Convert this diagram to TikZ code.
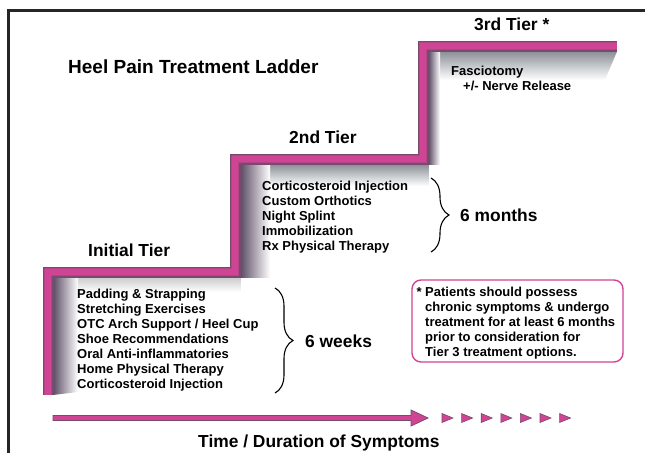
\documentclass[tikz,border=0pt]{standalone}
\usepackage{fontspec}
\setmainfont{Liberation Sans}
\usetikzlibrary{calc,decorations.pathreplacing}

\definecolor{ladderpink}{RGB}{208,68,148}
\definecolor{ladderedge}{RGB}{120,74,110}
\definecolor{laddermid}{RGB}{176,70,136}
\definecolor{stepshade}{RGB}{92,78,102}
\definecolor{topshade}{RGB}{140,145,152}
\definecolor{framegray}{RGB}{38,38,38}

\begin{document}
\begin{tikzpicture}[
    x=1pt, y=-1pt,
    every node/.style={inner sep=0pt},
    title/.style={font=\bfseries\fontsize{19}{22}\selectfont, anchor=base west},
    tier/.style={font=\bfseries\fontsize{17.4}{20}\selectfont, anchor=base west},
    items/.style={font=\bfseries\fontsize{13}{15}\selectfont, align=left, anchor=north west},
    brc/.style={decorate, decoration={brace, amplitude=18pt}, line width=1.1pt},
    bandout/.style={line width=11pt, ladderedge, line join=miter},
    bandmid/.style={line width=8.5pt, laddermid, line join=miter},
    bandin/.style={line width=6pt, ladderpink, line join=miter},
    tick/.style={fill=ladderpink, draw=ladderedge, line width=0.6pt},
  ]
  \useasboundingbox (0,0) rectangle (645,453);

  % ── Frame ────────────────────────────────────────────────────────────────
  \draw[framegray, line width=3pt] (8.5,453) -- (8.5,10.5) -- (645,10.5);

  % ── Shading below the steps ──────────────────────────────────────────────

  % Initial tier
  \shade[top color=gray!40, bottom color=white] (53,277.5) rectangle (240.5,292);
  \shade[left color=stepshade, right color=white]
    (53,277.5) -- (78,277.5) -- (78,392) -- (53,395) -- cycle;

  % 2nd tier
  \shade[top color=topshade, bottom color=white] (240.5,164.5) rectangle (428.5,186);
  \shade[left color=stepshade, right color=white] (240.5,164.5) rectangle (270,277.5);

  % 3rd tier
  \shade[top color=topshade, bottom color=white]
    (428.5,51.5) -- (617,51.5) -- (605,80) -- (428.5,80) -- cycle;
  \shade[left color=stepshade, right color=white] (428.5,51.5) rectangle (440,164.5);

  % ── Ladder ───────────────────────────────────────────────────────────────
  \draw[bandout] (48,395) -- (48,272) -- (235,272) -- (235,159) -- (423,159) -- (423,46) -- (617,46);
  \draw[bandmid] (48,395) -- (48,272) -- (235,272) -- (235,159) -- (423,159) -- (423,46) -- (617,46);
  \draw[bandin]  (48,395) -- (48,272) -- (235,272) -- (235,159) -- (423,159) -- (423,46) -- (617,46);

  % ── Titles ───────────────────────────────────────────────────────────────
  \node[title] (ladder)  at (68,73)   {Heel Pain Treatment Ladder};
  \node[tier]  (tierI)   at (88,256)  {Initial Tier};
  \node[tier]  (tierII)  at (289,143) {2nd Tier};
  \node[tier]  (tierIII) at (474,30)  {3rd Tier *};

  % ── Treatments ───────────────────────────────────────────────────────────
  \node[items] (listI) at (77,288.5) {Padding \& Strapping\\
    Stretching Exercises\\
    OTC Arch Support / Heel Cup\\
    Shoe Recommendations\\
    Oral Anti-inflammatories\\
    Home Physical Therapy\\
    Corticosteroid Injection};
  \node[items] (listII) at (262,180.5) {Corticosteroid Injection\\
    Custom Orthotics\\
    Night Splint\\
    Immobilization\\
    Rx Physical Therapy};
  \node[items] (listIII) at (451,65.5) {Fasciotomy\\
    \hspace*{12pt}+/- Nerve Release};

  % ── Durations ────────────────────────────────────────────────────────────
  \coordinate (bIa) at (275,288);
  \coordinate (bIb) at (275,393);
  \coordinate (bIIa) at (431,178);
  \coordinate (bIIb) at (431,252);
  \draw[brc] (bIa) -- (bIb);
  \draw[brc] (bIIa) -- (bIIb);
  \node[tier] (weeks)  at (305,347) {6 weeks};
  \node[tier] (months) at (460,221) {6 months};

  % ── Note ─────────────────────────────────────────────────────────────────
  \draw[ladderpink, line width=1.4pt, rounded corners=9pt] (412,280) rectangle (623,362);
  \node[items] (note) at (425,286.5) {\llap{* }Patients should possess\\
    chronic symptoms \& undergo\\
    treatment for at least 6 months\\
    prior to consideration for\\
    Tier 3 treatment options.};

  % ── Time axis ────────────────────────────────────────────────────────────
  \coordinate (tstart) at (53,418);
  \coordinate (tend)   at (428,418);
  \filldraw[fill=ladderpink, draw=ladderedge, line width=0.8pt]
    ($(tstart)+(0,-2.5)$) -- ($(tend)+(-17,-2.5)$) -- ($(tend)+(-17,-8)$) -- (tend)
    -- ($(tend)+(-17,8)$) -- ($(tend)+(-17,2.5)$) -- ($(tstart)+(0,2.5)$) -- cycle;
  \foreach \i in {0,...,6}
    \filldraw[tick] ({442+19.6*\i},413.5) -- ++(11,4.5) -- ++(-11,4.5) -- cycle;
  \node[tier] (axis) at (198,447) {Time / Duration of Symptoms};

\end{tikzpicture}
\end{document}
